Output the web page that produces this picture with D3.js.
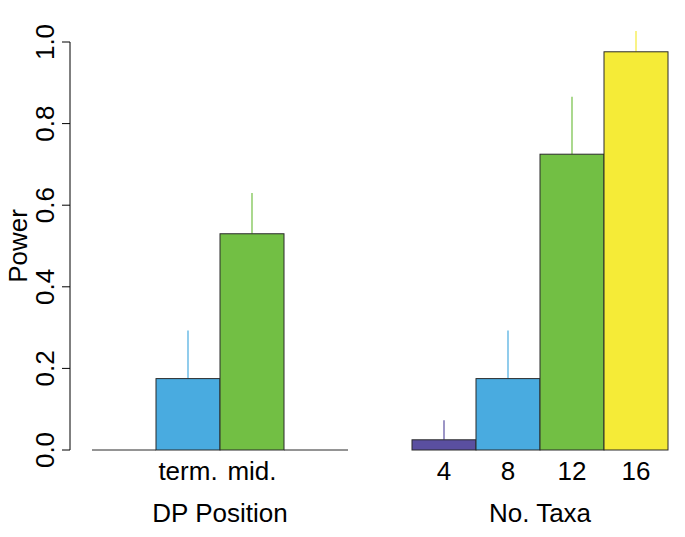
<!DOCTYPE html>
<html><head><meta charset="utf-8">
<script src="https://cdn.jsdelivr.net/npm/d3@7"></script>
<style>body{margin:0;background:#fff}svg{display:block}text{font-family:"Liberation Sans",Arial,Helvetica,sans-serif;fill:#000}</style>
</head><body><svg id="c" width="685" height="537"></svg>
<script>
const colors = ["#5a4fa0", "#49abe0", "#72bf44", "#f5eb37"];
const dpSlots = ["a", "term.", "mid.", "b"];
const dpLabels = ["", "term.", "mid.", ""];
const dpValues = [0, 0.175, 0.53, 0];
const dpUpper = [0, 0.293, 0.63, 0];
const taxaLabels = ["4", "8", "12", "16"];
const taxaValues = [0.025, 0.175, 0.725, 0.976];
const taxaUpper = [0.073, 0.293, 0.866, 1.027];
const yTicks = [0, 0.2, 0.4, 0.6, 0.8, 1.0];

const FS = 26;
const svg = d3.select("#c");
const y = d3.scaleLinear().domain([0, 1]).range([450, 42]);

// y axis
const ax = svg.append("g").attr("transform", "translate(70,0)");
ax.append("line").attr("x1", 0).attr("x2", 0).attr("y1", y(0)).attr("y2", y(1)).attr("stroke", "#000");
yTicks.forEach(t => {
  ax.append("line").attr("x1", -8).attr("x2", 0).attr("y1", y(t)).attr("y2", y(t)).attr("stroke", "#000");
  ax.append("text").attr("transform", `translate(-16,${y(t)}) rotate(-90)`).attr("text-anchor", "middle")
    .attr("font-size", FS).text(d3.format(".1f")(t));
});
svg.append("text").attr("transform", `translate(27,${(y(0)+y(1))/2}) rotate(-90)`).attr("text-anchor", "middle")
  .attr("font-size", FS).text("Power");

function panel(x0, x1, keys, labels, vals, upper, title) {
  const x = d3.scaleBand().domain(keys).range([x0, x1]).padding(0);
  const g = svg.append("g");
  keys.forEach((k, i) => {
    const cx = x(k) + x.bandwidth() / 2;
    if (upper[i] > vals[i]) {
      g.append("line").attr("x1", cx).attr("x2", cx).attr("y1", y(vals[i])).attr("y2", y(upper[i]))
        .attr("stroke", colors[i]).attr("stroke-width", 1.2);
    }
    if (vals[i] > 0) {
      g.append("rect").attr("x", x(k)).attr("y", y(vals[i])).attr("width", x.bandwidth())
        .attr("height", y(0) - y(vals[i])).attr("fill", colors[i]).attr("stroke", "#2a2a2a").attr("stroke-width", 1);
    } else {
      g.append("line").attr("x1", x(k)).attr("x2", x(k) + x.bandwidth()).attr("y1", y(0)).attr("y2", y(0))
        .attr("stroke", "#2a2a2a").attr("stroke-width", 1);
    }
    if (labels[i]) {
      g.append("text").attr("x", cx).attr("y", 480).attr("text-anchor", "middle").attr("font-size", FS).text(labels[i]);
    }
  });
  g.append("text").attr("x", (x0 + x1) / 2).attr("y", 522).attr("text-anchor", "middle").attr("font-size", FS).text(title);
}
panel(92, 348, dpSlots, dpLabels, dpValues, dpUpper, "DP Position");
panel(412, 668, taxaLabels, taxaLabels, taxaValues, taxaUpper, "No. Taxa");
</script></body></html>
